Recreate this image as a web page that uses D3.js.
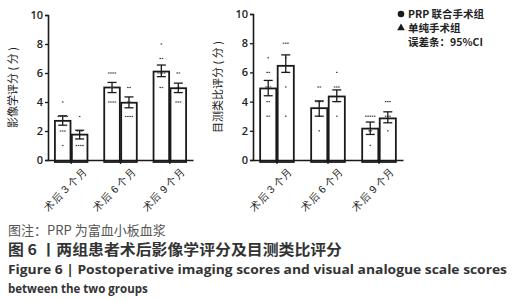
<!DOCTYPE html>
<html>
<head>
<meta charset="utf-8">
<script src="https://cdn.jsdelivr.net/npm/d3@7"></script>
<style>
  body { margin: 0; background: #fff; }
  svg { font-family: "Noto Sans CJK SC", "Noto Sans", sans-serif; }
</style>
</head>
<body>
<div id="chart"></div>
<script>
const groups = ["术后 3 个月", "术后 6 个月", "术后 9 个月"];
const series = ["PRP 联合手术组", "单纯手术组"];
const yTicks = [0, 2, 4, 6, 8, 10];

// imaging score: means, 95% CI low/high, individual scores
const imgMean = [[2.7, 1.75], [5.0, 3.95], [6.1, 4.95]];
const imgLow  = [[2.4, 1.45], [4.65, 3.6], [5.75, 4.65]];
const imgHigh = [[3.05, 2.05], [5.35, 4.35], [6.55, 5.3]];
const imgDots = [
    [[4, 3, 3, 3, 3, 3, 2, 2, 2, 1], [3, 2, 2, 2, 1, 1, 1, 1]],
    [[6, 6, 6, 6, 5, 5, 4, 4, 4, 4], [5, 5, 4, 4, 3, 3, 3, 3]],
    [[8, 7, 7, 6, 6, 6, 6, 5, 5], [6, 6, 5, 5, 4, 4, 4]]
];

// visual analogue scale score
const vasMean = [[4.9, 6.45], [3.55, 4.35], [2.15, 2.85]];
const vasLow  = [[4.4, 6.0], [3.0, 4.0], [1.75, 2.55]];
const vasHigh = [[5.45, 7.2], [4.05, 4.8], [2.6, 3.3]];
const vasDots = [
    [[7, 6, 6, 5, 5, 5, 4, 4, 3, 3], [8, 8, 8, 7, 6, 6, 5, 3]],
    [[5, 5, 4, 4, 4, 4, 3, 2], [6, 5, 5, 5, 4, 4, 3]],
    [[3, 3, 3, 3, 3, 2, 2, 1], [4, 4, 4, 3, 3, 3, 2]]
];

const svg = d3.select("#chart").append("svg")
    .attr("width", 516)
    .attr("height", 300);

function drawPanel(opts) {
    const { x0, x1, yTop, yBottom, mean, low, high, dots, label, labelX } = opts;

    const x = d3.scaleBand().domain(groups).range([x0, x1]).paddingInner(0.34).paddingOuter(0.14);
    const xs = d3.scaleBand().domain(series).range([0, x.bandwidth()]).paddingInner(0.08);
    const y = d3.scaleLinear().domain([0, 10]).range([yBottom, yTop]);

    const g = svg.append("g");

    // bars
    groups.forEach(function(grp, gi) {
        series.forEach(function(s, si) {
            const bx = x(grp) + xs(s);
            const bw = xs.bandwidth();
            const cx = bx + bw / 2;

            g.append("rect")
                .attr("x", bx)
                .attr("y", y(mean[gi][si]))
                .attr("width", bw)
                .attr("height", y(0) - y(mean[gi][si]) + 2)
                .attr("fill", "#fff")
                .attr("stroke", "#1a1a1a")
                .attr("stroke-width", 1.8);

            // individual scores, spread sideways when values repeat
            const counts = {};
            dots[gi][si].forEach(function(v) { counts[v] = (counts[v] || 0) + 1; });
            const seen = {};
            dots[gi][si].forEach(function(v) {
                const k = seen[v] = (seen[v] || 0) + 1;
                const off = (k - (counts[v] + 1) / 2) * 2.2;
                g.append("rect")
                    .attr("x", cx + off - 0.8)
                    .attr("y", y(v) - 0.6)
                    .attr("width", 1.6)
                    .attr("height", 1.2)
                    .attr("fill", "#444");
            });

            // error bar
            g.append("line")
                .attr("x1", cx).attr("x2", cx)
                .attr("y1", y(low[gi][si])).attr("y2", y(high[gi][si]))
                .attr("stroke", "#1a1a1a").attr("stroke-width", 1.3);
            [low[gi][si], high[gi][si]].forEach(function(v) {
                g.append("line")
                    .attr("x1", cx - 4.5).attr("x2", cx + 4.5)
                    .attr("y1", y(v)).attr("y2", y(v))
                    .attr("stroke", "#1a1a1a").attr("stroke-width", 1.3);
            });
        });
    });

    // y axis
    const yAxis = g.append("g")
        .attr("transform", "translate(" + x0 + ",0)")
        .call(d3.axisLeft(y).tickValues(yTicks).tickSize(3).tickPadding(2).tickFormat(d3.format("d")));
    yAxis.select(".domain").attr("stroke", "#1a1a1a").attr("stroke-width", 1.6);
    yAxis.selectAll(".tick line").attr("stroke", "#1a1a1a").attr("stroke-width", 1.3);
    yAxis.selectAll(".tick text")
        .attr("fill", "#222")
        .style("font-family", "'Open Sans', sans-serif")
        .style("font-size", "11px")
        .style("font-weight", "600");

    // x axis
    const xAxis = g.append("g")
        .attr("transform", "translate(0," + yBottom + ")")
        .call(d3.axisBottom(x).tickSize(4).tickSizeOuter(0));
    xAxis.select(".domain").attr("stroke", "#1a1a1a").attr("stroke-width", 1.6);
    xAxis.selectAll(".tick line").attr("stroke", "#1a1a1a").attr("stroke-width", 1.3);
    xAxis.selectAll(".tick text")
        .attr("fill", "#222")
        .style("font-size", "10.5px")
        .attr("text-anchor", "end")
        .attr("transform", "translate(6,2) rotate(-45)")
        .attr("dy", "0.7em");

    // y axis label
    g.append("text")
        .attr("transform", "translate(" + labelX + "," + ((yTop + yBottom) / 2) + ") rotate(-90)")
        .attr("text-anchor", "middle")
        .attr("fill", "#222")
        .style("font-size", "11px")
        .text(label);
}

drawPanel({
    x0: 48, x1: 193, yTop: 15, yBottom: 160,
    mean: imgMean, low: imgLow, high: imgHigh, dots: imgDots,
    label: "影像学评分 ( 分 )", labelX: 17
});

drawPanel({
    x0: 253, x1: 403, yTop: 14, yBottom: 160,
    mean: vasMean, low: vasLow, high: vasHigh, dots: vasDots,
    label: "目测类比评分 ( 分 )", labelX: 222
});

// legend
const legend = svg.append("g").attr("transform", "translate(398,0)");
legend.append("circle").attr("cx", 3).attr("cy", 14).attr("r", 3.3).attr("fill", "#1a1a1a");
legend.append("path")
    .attr("d", d3.symbol().type(d3.symbolTriangle).size(26)())
    .attr("transform", "translate(3,28)")
    .attr("fill", "#1a1a1a");
legend.append("text").attr("x", 10).attr("y", 18).attr("fill", "#222")
    .style("font-size", "10.5px").style("font-weight", "600").text("PRP 联合手术组");
legend.append("text").attr("x", 10).attr("y", 32).attr("fill", "#222")
    .style("font-size", "10.5px").style("font-weight", "600").text("单纯手术组");
legend.append("text").attr("x", 10).attr("y", 46).attr("fill", "#222")
    .style("font-size", "10.5px").style("font-weight", "600").text("误差条：95%CI");

// captions
svg.append("text").attr("x", 8).attr("y", 235).attr("fill", "#555")
    .style("font-size", "13px").text("图注：PRP 为富血小板血浆");
svg.append("text").attr("x", 8).attr("y", 255).attr("fill", "#333")
    .style("font-size", "14.5px").style("font-weight", "700")
    .attr("textLength", 334).attr("lengthAdjust", "spacingAndGlyphs")
    .text("图 6 丨两组患者术后影像学评分及目测类比评分");
svg.append("text").attr("x", 8).attr("y", 274).attr("fill", "#333")
    .style("font-family", "'Open Sans', sans-serif")
    .style("font-size", "11.5px").style("font-weight", "700")
    .attr("textLength", 499).attr("lengthAdjust", "spacingAndGlyphs")
    .text("Figure 6  |  Postoperative imaging scores and visual analogue scale scores");
svg.append("text").attr("x", 8).attr("y", 293).attr("fill", "#333")
    .style("font-family", "'Open Sans', sans-serif")
    .style("font-size", "11.5px").style("font-weight", "700")
    .text("between the two groups");
</script>
</body>
</html>
